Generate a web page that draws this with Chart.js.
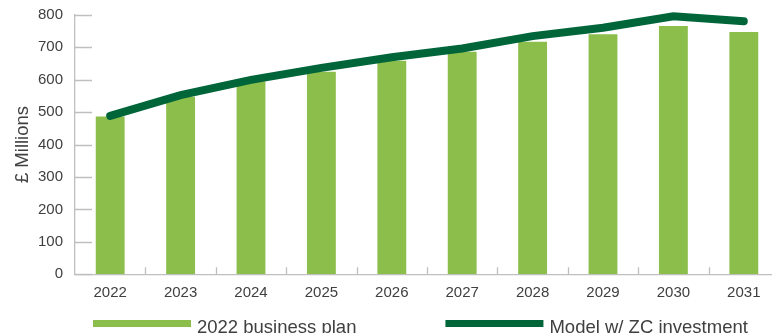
<!DOCTYPE html>
<html>
<head>
<meta charset="utf-8">
<script src="https://cdn.jsdelivr.net/npm/chart.js@4.4.0/dist/chart.umd.min.js"></script>
<style>
    html, body { margin: 0; padding: 0; background: #ffffff; overflow: hidden; }
    #wrap { position: relative; width: 779px; height: 340px; }
</style>
</head>
<body>
<div id="wrap"><canvas id="chart"></canvas></div>
<script>
// Static data
const years = ["2022", "2023", "2024", "2025", "2026", "2027", "2028", "2029", "2030", "2031"];
const businessPlan = [486, 547, 595, 624, 658, 686, 717, 740, 765, 747];
const modelZC = [488, 552, 599, 636, 669, 696, 734, 760, 795, 780];
const yTicks = [0, 100, 200, 300, 400, 500, 600, 700, 800];

const barGreen = "#8CBE4C";
const darkGreen = "#00663A";
const axisGrey = "#BFBFBF";
const textGrey = "#404040";
const fontFamily = "'Liberation Sans', Arial, sans-serif";

// Excel style tick marks pointing into the plot
const innerTicks = {
    id: "innerTicks",
    afterDatasetsDraw(chart) {
        const { ctx, chartArea, scales } = chart;
        const x = scales.x;
        const y = scales.y;
        ctx.save();
        ctx.strokeStyle = axisGrey;
        ctx.lineWidth = 1.3;
        ctx.beginPath();
        yTicks.forEach((v) => {
            const py = Math.round(y.getPixelForValue(v)) + 0.5;
            ctx.moveTo(chartArea.left, py);
            ctx.lineTo(chartArea.left + 17, py);
        });
        const step = x.getPixelForValue(1) - x.getPixelForValue(0);
        for (let i = 1; i <= years.length; i++) {
            const px = Math.round(x.getPixelForValue(i) - step / 2) + 0.5;
            ctx.moveTo(px, chartArea.bottom);
            ctx.lineTo(px, chartArea.bottom - 7);
        }
        ctx.stroke();
        ctx.restore();
    },
};

// Legend drawn below the axis labels
const bottomLegend = {
    id: "bottomLegend",
    afterDraw(chart) {
        const { ctx, chartArea } = chart;
        const items = [
            { text: "2022 business plan", color: barGreen },
            { text: "Model w/ ZC investment", color: darkGreen },
        ];
        ctx.save();
        ctx.font = "18.5px " + fontFamily;
        ctx.textBaseline = "alphabetic";
        let px = chartArea.left + 18;
        items.forEach((item) => {
            ctx.fillStyle = item.color;
            ctx.fillRect(px, 320, 98, 7);
            px += 98 + 6;
            ctx.fillStyle = textGrey;
            ctx.fillText(item.text, px, 332.5);
            px += ctx.measureText(item.text).width + 89;
        });
        ctx.restore();
    },
};

const ctx = document.getElementById("chart");

new Chart(ctx, {
    data: {
        labels: years,
        datasets: [
            // Dark green line
            {
                type: "line",
                label: "Model w/ ZC investment",
                data: modelZC,
                borderColor: darkGreen,
                borderWidth: 8,
                borderCapStyle: "round",
                borderJoinStyle: "miter",
                pointRadius: 0,
                tension: 0,
                clip: 10,
                order: 0,
            },
            // Light green bars
            {
                type: "bar",
                label: "2022 business plan",
                data: businessPlan,
                backgroundColor: barGreen,
                barPercentage: 0.41,
                categoryPercentage: 1,
                order: 1,
            },
        ],
    },
    options: {
        responsive: true,
        maintainAspectRatio: false,
        animation: false,
        layout: {
            autoPadding: false,
            padding: { top: 14.7, right: 0, bottom: 0, left: 0 },
        },
        scales: {
            x: {
                grid: { display: false, drawTicks: false },
                border: { display: true, color: axisGrey, width: 1.3 },
                ticks: {
                    color: textGrey,
                    font: { family: fontFamily, size: 15 },
                    padding: 10,
                    maxRotation: 0,
                },
                afterFit: (scale) => {
                    scale.height = 65.7;
                },
            },
            y: {
                min: 0,
                max: 800,
                grid: { display: false, drawTicks: false },
                border: { display: true, color: axisGrey, width: 1.3 },
                ticks: {
                    stepSize: 100,
                    color: textGrey,
                    font: { family: fontFamily, size: 15 },
                    padding: 12,
                },
                title: {
                    display: true,
                    text: "£ Millions",
                    color: textGrey,
                    font: { family: fontFamily, size: 18.5 },
                    padding: { top: 12, bottom: 0 },
                },
                afterFit: (scale) => {
                    scale.width = 75;
                    scale.paddingTop = 0;
                    scale.paddingBottom = 0;
                },
            },
        },
        plugins: {
            legend: { display: false },
            tooltip: { enabled: false },
        },
    },
    plugins: [innerTicks, bottomLegend],
});
</script>
</body>
</html>
